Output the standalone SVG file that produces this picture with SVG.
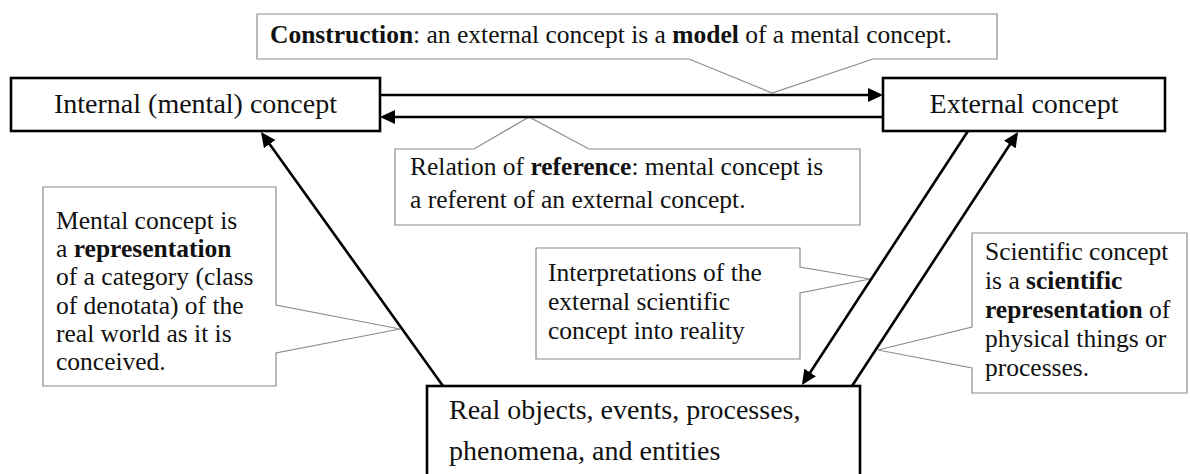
<svg xmlns="http://www.w3.org/2000/svg" width="1190" height="474" viewBox="0 0 1190 474">
<style>
.node{fill:#fff;stroke:#000;stroke-width:2.6}
.call{fill:#fff;stroke:#8c8c8c;stroke-width:1.2}
.nt{font-family:"Liberation Serif","Times New Roman",serif;font-size:28px;fill:#111}
.ct{font-family:"Liberation Serif","Times New Roman",serif;font-size:25.5px;fill:#111}
.b{font-weight:bold}
.con{stroke:#000;stroke-width:2.6;fill:none}
</style>
<defs>
<marker id="ah" markerUnits="userSpaceOnUse" markerWidth="16" markerHeight="15" refX="12" refY="7" orient="auto">
<path d="M0,0 L15,7 L0,14 Z" fill="#000"/>
</marker>
</defs>
<rect width="1190" height="474" fill="#fff"/>

<g id="callout-construction">
<path class="call" d="M257,14 H997 V59 H873 L772,93 L689,59 H257 Z"/>
<text class="ct" x="270" y="43"><tspan class="b">Construction</tspan>: an external concept is a <tspan class="b">model</tspan> of a mental concept.</text>
</g>
<g id="callout-reference">
<path class="call" d="M395,149 H474 L529,117 L589,149 H860 V225 H395 Z"/>
<text class="ct" x="410" y="175">Relation of <tspan class="b">reference</tspan>: mental concept is</text>
<text class="ct" x="410" y="208">a referent of an external concept.</text>
</g>
<g id="callout-mental">
<path class="call" d="M43,187 H276 V305 L400,329 L276,353 V386 H43 Z"/>
<text class="ct" x="56" y="229">Mental concept is</text>
<text class="ct" x="56" y="257">a <tspan class="b">representation</tspan></text>
<text class="ct" x="56" y="285">of a category (class</text>
<text class="ct" x="56" y="314">of denotata) of the</text>
<text class="ct" x="56" y="342">real world as it is</text>
<text class="ct" x="56" y="370">conceived.</text>
</g>
<g id="callout-interpretations">
<path class="call" d="M536,248 H800 V267 L870,279 L800,293 V359 H536 Z"/>
<text class="ct" x="548" y="281">Interpretations of the</text>
<text class="ct" x="548" y="310">external scientific</text>
<text class="ct" x="548" y="339">concept into reality</text>
</g>
<g id="callout-scientific">
<path class="call" d="M972,233 H1187 V393 H972 V368 L878,350 L972,327 Z"/>
<text class="ct" x="985" y="260">Scientific concept</text>
<text class="ct" x="985" y="289">is a <tspan class="b">scientific</tspan></text>
<text class="ct" x="985" y="318"><tspan class="b">representation</tspan> of</text>
<text class="ct" x="985" y="347">physical things or</text>
<text class="ct" x="985" y="376">processes.</text>
</g>

<g id="node-internal">
<rect class="node" x="11" y="78" width="369" height="53"/>
<text class="nt" x="195.5" y="113" text-anchor="middle">Internal (mental) concept</text>
</g>
<g id="node-external">
<rect class="node" x="883" y="78" width="282" height="53"/>
<text class="nt" x="1024" y="113" text-anchor="middle">External concept</text>
</g>
<g id="node-real">
<rect class="node" x="427" y="386" width="433" height="100"/>
<text class="nt" x="449" y="419">Real objects, events, processes,</text>
<text class="nt" x="449" y="460">phenomena, and entities</text>
</g>

<g id="connectors">
<line class="con" x1="381" y1="95" x2="880" y2="95" marker-end="url(#ah)"/>
<line class="con" x1="882" y1="117" x2="383" y2="117" marker-end="url(#ah)"/>
<line class="con" x1="443" y1="386" x2="262.7" y2="134.4" marker-end="url(#ah)"/>
<line class="con" x1="968" y1="131" x2="803.6" y2="382.5" marker-end="url(#ah)"/>
<line class="con" x1="852" y1="386" x2="1016.4" y2="134.5" marker-end="url(#ah)"/>
</g>
</svg>
